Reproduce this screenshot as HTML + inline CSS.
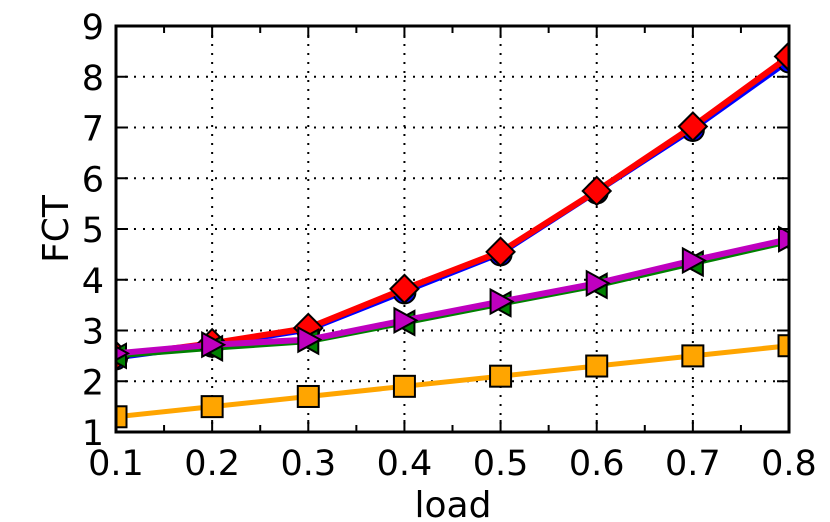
<!DOCTYPE html>
<html><head><meta charset="utf-8"><style>
html,body{margin:0;padding:0;background:#fff;width:830px;height:522px;overflow:hidden}
svg text{font-family:"DejaVu Sans","Liberation Sans",sans-serif;fill:#000}
</style></head><body>
<svg id="s" width="830" height="522" xmlns="http://www.w3.org/2000/svg">
<defs><clipPath id="c"><rect x="116" y="26" width="673" height="406"/></clipPath></defs>
<g id="grid"></g>
<g id="data" clip-path="url(#c)"></g>
<rect x="116" y="26" width="673" height="406" fill="none" stroke="#000" stroke-width="3"/>
<g id="ticks"></g>
<text x="453" y="517" font-size="36" text-anchor="middle">load</text>
<text transform="translate(68,229) rotate(-90)" font-size="36" text-anchor="middle">FCT</text>
</svg>
<script>
const X=v=>116+(v-0.1)*961.43, Y=v=>432-(v-1)*50.75;
let g='',t='',d='';
for(let i=1;i<=8;i++){const x=X(i/10);
 if(i>1&&i<8) g+=`<line x1="${x}" y1="26" x2="${x}" y2="432" stroke="#000" stroke-width="2" stroke-dasharray="2,7"/>`;
 t+=`<line x1="${x}" y1="432" x2="${x}" y2="420" stroke="#000" stroke-width="2"/><line x1="${x}" y1="26" x2="${x}" y2="38" stroke="#000" stroke-width="2"/>`;
 t+=`<text x="${x}" y="475" font-size="35" text-anchor="middle">0.${i}</text>`;
 if(i<8){const xm=X(i/10+0.05);t+=`<line x1="${xm}" y1="432" x2="${xm}" y2="425" stroke="#000" stroke-width="2"/><line x1="${xm}" y1="26" x2="${xm}" y2="33" stroke="#000" stroke-width="2"/>`;}
}
for(let v=1;v<=9;v++){const y=Y(v);
 if(v>1&&v<9) g+=`<line x1="116" y1="${y}" x2="789" y2="${y}" stroke="#000" stroke-width="2" stroke-dasharray="2,7"/>`;
 t+=`<line x1="116" y1="${y}" x2="128" y2="${y}" stroke="#000" stroke-width="2"/><line x1="789" y1="${y}" x2="777" y2="${y}" stroke="#000" stroke-width="2"/>`;
 t+=`<text x="104" y="${y+13}" font-size="35" text-anchor="end">${v}</text>`;
}
const xs=[.1,.2,.3,.4,.5,.6,.7,.8];
const S=[
 ['#0000ff',4,'o',[2.45,2.7,3.0,3.75,4.5,5.72,6.95,8.3]],
 ['#ff0000',6,'d',[2.5,2.75,3.05,3.82,4.55,5.75,7.02,8.4]],
 ['#008000',5,'<',[2.5,2.65,2.78,3.15,3.52,3.88,4.32,4.75]],
 ['#bf00bf',6,'>',[2.55,2.72,2.82,3.2,3.57,3.93,4.38,4.8]],
 ['#ffa500',5,'s',[1.3,1.5,1.7,1.9,2.1,2.3,2.5,2.7]]];
for(const [c,w,m,ys] of S){
 d+=`<polyline fill="none" stroke="${c}" stroke-width="${w}" points="${ys.map((v,i)=>X(xs[i])+','+Y(v)).join(' ')}"/>`;
 ys.forEach((v,i)=>{const x=X(xs[i]),y=Y(v),st=`fill="${c}" stroke="#000" stroke-width="2"`;
  if(m=='o')d+=`<circle cx="${x}" cy="${y}" r="11" ${st}/>`;
  if(m=='d')d+=`<polygon points="${x},${y-14} ${x+14},${y} ${x},${y+14} ${x-14},${y}" ${st}/>`;
  if(m=='s')d+=`<rect x="${x-10.5}" y="${y-10.5}" width="21" height="21" ${st}/>`;
  if(m=='<')d+=`<polygon points="${x-12},${y} ${x+10},${y-12} ${x+10},${y+12}" ${st}/>`;
  if(m=='>')d+=`<polygon points="${x+12},${y} ${x-10},${y-12} ${x-10},${y+12}" ${st}/>`;
 });
}
document.getElementById('grid').innerHTML=g;
document.getElementById('ticks').innerHTML=t;
document.getElementById('data').innerHTML=d;
</script>
</body></html>
